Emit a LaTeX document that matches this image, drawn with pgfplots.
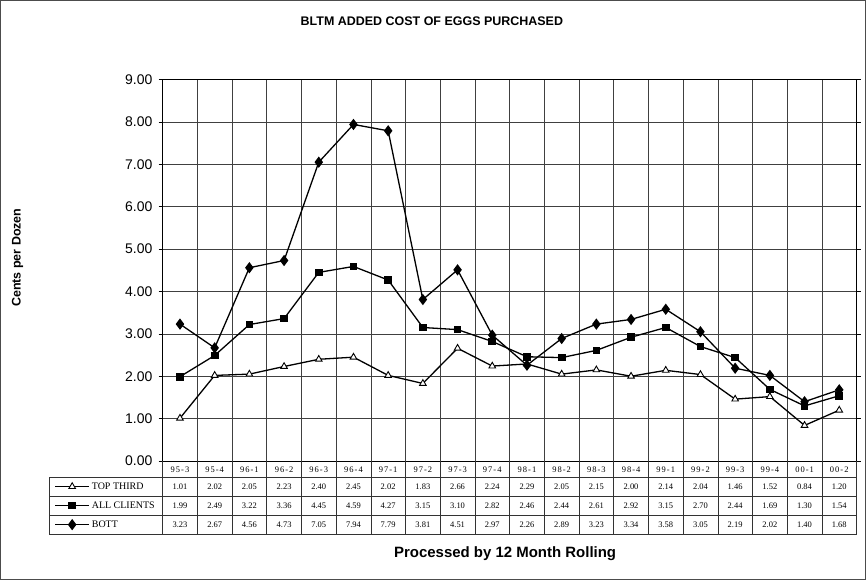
\documentclass[border=0pt]{standalone}
\usepackage{pgfplots}
\pgfplotsset{compat=1.18}
\usepackage{fontspec}
\setmainfont{Liberation Serif}
\newfontfamily\arial{Liberation Sans}
\newfontfamily\hdrfont{Liberation Serif}[LetterSpace=12]
\newcommand{\cl}[4]{\rule{0pt}{6bp}{\hdrfont #1}\\[-1.5bp]#2\\#3\\#4}
\begin{document}
\begin{tikzpicture}[x=1bp,y=1bp]
\begin{axis}[
  at={(163bp,119bp)}, anchor=south west,
  scale only axis, width=693bp, height=381bp,
  xmin=-0.5, xmax=19.5, ymin=0, ymax=9,
  clip=false,
  axis line style={black, line width=0.8bp},
  ytick={0,1,...,9},
  yticklabel style={font=\arial\fontsize{14}{16}\selectfont, inner xsep=0pt, xshift=-6bp},
  /pgf/number format/.cd, fixed, fixed zerofill, precision=2, assume math mode=true,
  /pgfplots/.cd,
  tick align=outside, major tick length=4bp,
  ytick style={black, line width=0.6bp},
  ymajorgrids, grid style={black!75, line width=0.6bp},
  xtick={0,...,19}, major x tick style={draw=none},
  minor xtick={-0.5,0.5,...,19.5}, xminorgrids,
  minor grid style={black!75, line width=0.6bp},
  minor x tick style={draw=none},
  xticklabels={
    {\cl{95-3}{1.01}{1.99}{3.23}},
    {\cl{95-4}{2.02}{2.49}{2.67}},
    {\cl{96-1}{2.05}{3.22}{4.56}},
    {\cl{96-2}{2.23}{3.36}{4.73}},
    {\cl{96-3}{2.40}{4.45}{7.05}},
    {\cl{96-4}{2.45}{4.59}{7.94}},
    {\cl{97-1}{2.02}{4.27}{7.79}},
    {\cl{97-2}{1.83}{3.15}{3.81}},
    {\cl{97-3}{2.66}{3.10}{4.51}},
    {\cl{97-4}{2.24}{2.82}{2.97}},
    {\cl{98-1}{2.29}{2.46}{2.26}},
    {\cl{98-2}{2.05}{2.44}{2.89}},
    {\cl{98-3}{2.15}{2.61}{3.23}},
    {\cl{98-4}{2.00}{2.92}{3.34}},
    {\cl{99-1}{2.14}{3.15}{3.58}},
    {\cl{99-2}{2.04}{2.70}{3.05}},
    {\cl{99-3}{1.46}{2.44}{2.19}},
    {\cl{99-4}{1.52}{1.69}{2.02}},
    {\cl{00-1}{0.84}{1.30}{1.40}},
    {\cl{00-2}{1.20}{1.54}{1.68}}
  },
  xticklabel style={anchor=north, align=center, inner sep=0pt, yshift=-1bp,
    font=\fontsize{8.5}{19}\selectfont},
  title={BLTM ADDED COST OF EGGS PURCHASED},
  title style={at={(axis description cs:0.388,1.1365)}, anchor=center,
    font=\arial\bfseries\fontsize{12.5}{14}\selectfont},
  xlabel={Processed by 12 Month Rolling},
  xlabel style={at={(axis description cs:0.4935,-0.244)}, anchor=center,
    font=\arial\bfseries\fontsize{15}{17}\selectfont},
  ylabel={Cents per Dozen},
  ylabel style={at={(axis description cs:-0.2092,0.533)}, anchor=center,
    font=\arial\bfseries\fontsize{12.5}{14}\selectfont},
  legend image code/.code={\draw[mark repeat=2,mark phase=2,#1] plot coordinates {(0bp,0bp) (17bp,0bp) (34bp,0bp)};},
  legend style={at={(axis description cs:-0.1558,-0.042)}, anchor=north west,
    draw=none, fill=none, inner sep=0pt, outer sep=0pt, row sep=0pt, column sep=2bp,
    font=\fontsize{10}{12}\selectfont,
    nodes={minimum height=19bp, inner sep=0pt}},
  legend cell align=left,
]
\addplot[black, line width=1.3bp, mark=triangle*, mark size=3.8bp, mark options={fill=white, line width=0.9bp}]
  coordinates {(0,1.01)(1,2.02)(2,2.05)(3,2.23)(4,2.40)(5,2.45)(6,2.02)(7,1.83)(8,2.66)(9,2.24)
  (10,2.29)(11,2.05)(12,2.15)(13,2.00)(14,2.14)(15,2.04)(16,1.46)(17,1.52)(18,0.84)(19,1.20)};
\addlegendentry{TOP THIRD}
\addplot[black, line width=1.3bp, mark=square*, mark size=3.2bp, mark options={fill=black}]
  coordinates {(0,1.99)(1,2.49)(2,3.22)(3,3.36)(4,4.45)(5,4.59)(6,4.27)(7,3.15)(8,3.10)(9,2.82)
  (10,2.46)(11,2.44)(12,2.61)(13,2.92)(14,3.15)(15,2.70)(16,2.44)(17,1.69)(18,1.30)(19,1.54)};
\addlegendentry{ALL CLIENTS}
\addplot[black, line width=1.3bp, mark=diamond*, mark size=4.6bp, mark options={fill=black}]
  coordinates {(0,3.23)(1,2.67)(2,4.56)(3,4.73)(4,7.05)(5,7.94)(6,7.79)(7,3.81)(8,4.51)(9,2.97)
  (10,2.26)(11,2.89)(12,3.23)(13,3.34)(14,3.58)(15,3.05)(16,2.19)(17,2.02)(18,1.40)(19,1.68)};
\addlegendentry{BOTT}
\end{axis}
% table rules
\foreach \k in {0,...,20} {\draw[black!80, line width=0.6bp] (163+34.65*\k,46) -- (163+34.65*\k,119);}
\foreach \yy in {103,84,65,46} {\draw[black!80, line width=0.7bp] (50,\yy) -- (856,\yy);}
\draw[black!80, line width=0.7bp] (50,46) -- (50,103);
% outer frame
\draw[black!70, line width=0.8bp] (1,1) rectangle (865,579);
\end{tikzpicture}
\end{document}
